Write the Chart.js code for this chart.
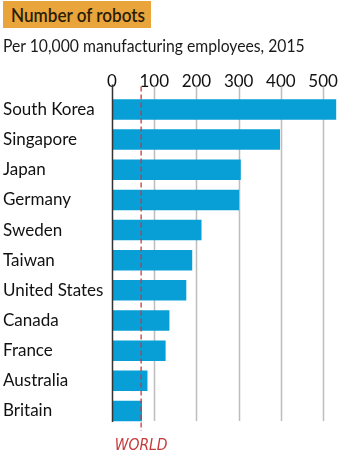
<!DOCTYPE html>
<html><head><meta charset="utf-8">
<script src="https://cdn.jsdelivr.net/npm/chart.js@4.4.1/dist/chart.umd.min.js"></script>
<style>
html,body{margin:0;padding:0;background:#fff;}
#wrap{position:relative;width:363px;height:458px;overflow:hidden;}
#c{position:absolute;left:0;top:0;}
#title{position:absolute;left:3px;top:1px;width:148px;height:27px;background:#e9a43c;box-sizing:border-box;}
#title span{position:absolute;left:8px;top:0;font-family:Lato,"Open Sans",sans-serif;font-size:19px;font-weight:600;color:#2b1d05;
 line-height:27px;white-space:nowrap;transform:scaleX(0.9);transform-origin:0 50%;}
#sub{position:absolute;left:3px;top:36px;font-family:Lato,"Open Sans",sans-serif;font-size:16.5px;color:#1a1a1a;white-space:nowrap;transform:scaleX(0.953);transform-origin:0 50%;}
</style></head>
<body><div id="wrap">
<canvas id="c" width="363" height="458"></canvas>
<div id="title"><span>Number of robots</span></div>
<div id="sub">Per 10,000 manufacturing employees, 2015</div>
</div>
<script>
const countries = ["South Korea","Singapore","Japan","Germany","Sweden","Taiwan","United States","Canada","France","Australia","Britain"];
const robots = [531, 398, 305, 301, 212, 190, 176, 136, 127, 84, 71];
const worldAverage = 69;
const worldLabel = "WORLD";
const tickStep = 100;
const axisMax = 540;

const FONT = 'Lato, "Open Sans", sans-serif';

const gridDraw = {
  id: 'gridDraw',
  beforeDatasetsDraw(chart) {
    const {ctx, chartArea, scales} = chart;
    ctx.save();
    ctx.strokeStyle = '#bdbdbd';
    ctx.lineWidth = 1.5;
    scales.x.ticks.forEach(t => {
      if (t.value === 0) return;
      const x = Math.round(scales.x.getPixelForValue(t.value)) + 0.5;
      ctx.beginPath();
      ctx.moveTo(x, chartArea.top - 8);
      ctx.lineTo(x, chartArea.bottom - 5);
      ctx.stroke();
    });
    ctx.restore();
  }
};

const overlay = {
  id: 'overlay',
  afterDatasetsDraw(chart) {
    const {ctx, chartArea, scales} = chart;
    const x0 = Math.round(scales.x.getPixelForValue(0)) + 0.5;
    ctx.save();
    ctx.strokeStyle = '#333';
    ctx.lineWidth = 1.5;
    ctx.beginPath();
    ctx.moveTo(x0, chartArea.top - 10);
    ctx.lineTo(x0, chartArea.bottom - 4);
    ctx.stroke();
    const xw = scales.x.getPixelForValue(worldAverage);
    ctx.strokeStyle = 'rgba(200,55,55,0.85)';
    ctx.lineWidth = 1.5;
    ctx.setLineDash([5, 3]);
    ctx.beginPath();
    ctx.moveTo(xw, chartArea.top - 8);
    ctx.lineTo(xw, chartArea.bottom + 5);
    ctx.stroke();
    ctx.setLineDash([]);
    ctx.fillStyle = '#c43a3a';
    ctx.font = 'italic 15.5px "Liberation Sans Narrow", "DejaVu Sans Condensed", sans-serif';
    ctx.textAlign = 'center';
    ctx.textBaseline = 'middle';
    ctx.fillText(worldLabel, xw, 446);
    ctx.restore();
  }
};

new Chart(document.getElementById('c'), {
  type: 'bar',
  data: {
    labels: countries,
    datasets: [{
      data: robots,
      backgroundColor: '#079fd6',
      borderWidth: 0,
      categoryPercentage: 1,
      barPercentage: 0.68
    }]
  },
  options: {
    indexAxis: 'y',
    responsive: false,
    animation: false,
    devicePixelRatio: 1,
    layout: {padding: {left: 3, top: 71, right: 23, bottom: 32}},
    plugins: {legend: {display: false}, tooltip: {enabled: false}, title: {display: false}},
    scales: {
      x: {
        position: 'top',
        min: 0, max: axisMax,
        ticks: {stepSize: tickStep, includeBounds: false, font: {family: FONT, size: 17}, color: '#111', padding: 0},
        grid: {
          color: 'rgba(0,0,0,0)',
          tickLength: 3,
          drawTicks: true,
          drawOnChartArea: false
        },
        border: {display: false}
      },
      y: {
        afterFit(scale) { scale.width = 109; },
        ticks: {crossAlign: 'far', font: {family: FONT, size: 17}, color: '#111', padding: 0},
        grid: {display: false},
        border: {display: false}
      }
    }
  },
  plugins: [gridDraw, overlay]
});
</script>
</body></html>
